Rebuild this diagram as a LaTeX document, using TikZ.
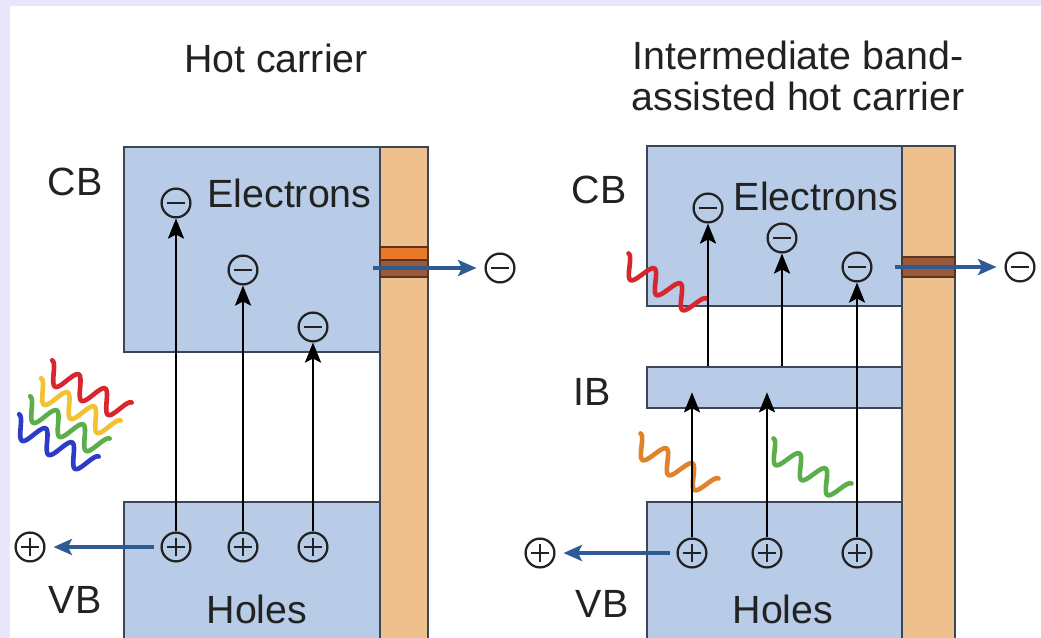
\documentclass[tikz,border=0pt]{standalone}
\usepackage{fontspec}
\setmainfont{Liberation Sans}
\usetikzlibrary{arrows.meta, positioning, fit}
\definecolor{cbg}{HTML}{E8E6FA}
\definecolor{cband}{HTML}{B8CCE8}
\definecolor{cedge}{HTML}{3B4656}
\definecolor{ctan}{HTML}{EDC08E}
\definecolor{corange}{HTML}{E8782A}
\definecolor{cbrown}{HTML}{9A5A3A}
\definecolor{cdark}{HTML}{5A3420}
\definecolor{cblue}{HTML}{2F5B94}
\definecolor{cink}{HTML}{222222}
\definecolor{wred}{HTML}{D8262E}
\definecolor{wyellow}{HTML}{F2C233}
\definecolor{wgreen}{HTML}{5BAE4A}
\definecolor{wblue}{HTML}{2C3CC8}
\definecolor{worange}{HTML}{E0822A}
\tikzset{
  every picture/.style={line width=1.8pt},
  band/.style={draw=cedge, fill=cband, inner sep=0pt},
  contact/.style={draw=cedge, fill=ctan, inner sep=0pt},
  stripe/.style={draw=cdark, fill=#1, line width=0.9pt},
  label/.style={font=\fontsize{28}{28.45}\selectfont, text=cink, anchor=base, inner sep=0pt},
  carrier/.style={circle, draw=cink, line width=1.6pt, minimum size=7.2mm, inner sep=0pt},
  elec/.style={carrier, path picture={
    \draw[line width=1.5pt] ([xshift=-2.3mm]path picture bounding box.center) -- ([xshift=2.3mm]path picture bounding box.center);}},
  hole/.style={carrier, path picture={
    \draw[line width=1.5pt] ([xshift=-2.3mm]path picture bounding box.center) -- ([xshift=2.3mm]path picture bounding box.center)
      ([yshift=-2.3mm]path picture bounding box.center) -- ([yshift=2.3mm]path picture bounding box.center);}},
  exc/.style={-{Stealth[length=5mm, width=4mm, inset=1mm]}, draw=black, line width=2pt},
  flow/.style={-{Stealth[length=4.6mm, width=4mm, inset=1mm]}, draw=cblue, line width=2.6pt, shorten <=1.5mm, shorten >=2mm},
  wave/.style={draw=#1, line width=3.3pt, line cap=round, line join=round},
}

\begin{document}
\begin{tikzpicture}[x=0.025cm, y=-0.025cm]
  \useasboundingbox (0,0) rectangle (1041,638);
  \clip (0,0) rectangle (1041,638);
  \fill[cbg] (0,0) rectangle (1041,638);
  \fill[white] (10,6) rectangle (1041,638);

  % left: hot carrier
  \node[band, fit={(124,147) (380,352)}] (cb) {};
  \node[band, fit={(124,502) (380,660)}] (vb) {};
  \node[contact, fit={(380,147) (428,660)}] (bar) {};
  \filldraw[stripe=corange] (380,247) rectangle (428,260);
  \filldraw[stripe=cbrown] (380,260) rectangle (428,277);
  \foreach \c [count=\i from 0] in {wred,wyellow,wgreen,wblue}
    \draw[wave=\c, shift={(47-11*\i,370+18*\i)}, rotate=-28] plot[domain=0:90, samples=90, smooth] (\x,{-11*cos(\x*12)});
  \foreach \n/\px/\py in {1/176/203, 2/243/270, 3/313/327}
    \node[elec] (e\n) at (\px,\py) {};
  \foreach \n/\px in {1/176, 2/243, 3/313}
    \node[hole] (h\n) at (\px,547) {};
  \foreach \n in {1,2,3}
    \draw[exc] (h\n) -- (e\n);
  \node[elec] (eout) at (500,268) {};
  \node[hole] (hout) at (30,547) {};
  \coordinate (c1) at (373,268);
  \draw[flow, shorten <=0pt] (c1) -- (eout);
  \draw[flow] (h1) -- (hout);
  \node[label] at (276,72) {Hot carrier};
  \node[label] at (75,195) {CB};
  \node[label] at (75,613) {VB};
  \node[label] at (289.5,207) {Electrons};
  \node[label] at (257,623) {Holes};

  % right: intermediate band
  \node[band, fit={(647,146) (902,306)}] (rcb) {};
  \node[band, fit={(647,367) (902,408)}] (ib) {};
  \node[band, fit={(647,502) (902,660)}] (rvb) {};
  \node[contact, fit={(902,146) (955,660)}] (rbar) {};
  \filldraw[stripe=cbrown] (902,257) rectangle (955,267);
  \filldraw[stripe=cbrown] (902,267) rectangle (955,277);
  \foreach \c/\px/\py in {wred/623/263, worange/635/443, wgreen/768/448}
    \draw[wave=\c, shift={(\px,\py)}, rotate=-30] plot[domain=0:90, samples=90, smooth] (\x,{-11*cos(\x*12)});
  \foreach \n/\px/\py in {1/708/208, 2/782/238, 3/857/267}
    \node[elec] (re\n) at (\px,\py) {};
  \foreach \n/\px in {1/692, 2/767, 3/857}
    \node[hole] (rh\n) at (\px,553) {};
  \draw[exc] (rh1) -- ([yshift=-1.2mm]rh1 |- ib.center);
  \draw[exc] (rh2) -- ([yshift=-1.2mm]rh2 |- ib.center);
  \draw[exc] (rh3) -- (re3);
  \draw[exc] (re1 |- ib.north) -- (re1);
  \draw[exc] (re2 |- ib.north) -- (re2);
  \node[elec] (reout) at (1020,267) {};
  \node[hole] (rhout) at (540,553) {};
  \coordinate (c2) at (895,267);
  \draw[flow, shorten <=0pt] (c2) -- (reout);
  \draw[flow] (rh1) -- (rhout);
  \node[label, align=center] at (798,110) {Intermediate band-\\assisted hot carrier};
  \node[label] at (599,203) {CB};
  \node[label] at (592.5,405) {IB};
  \node[label] at (602,617) {VB};
  \node[label] at (816,210) {Electrons};
  \node[label] at (783,623) {Holes};
\end{tikzpicture}
\end{document}
